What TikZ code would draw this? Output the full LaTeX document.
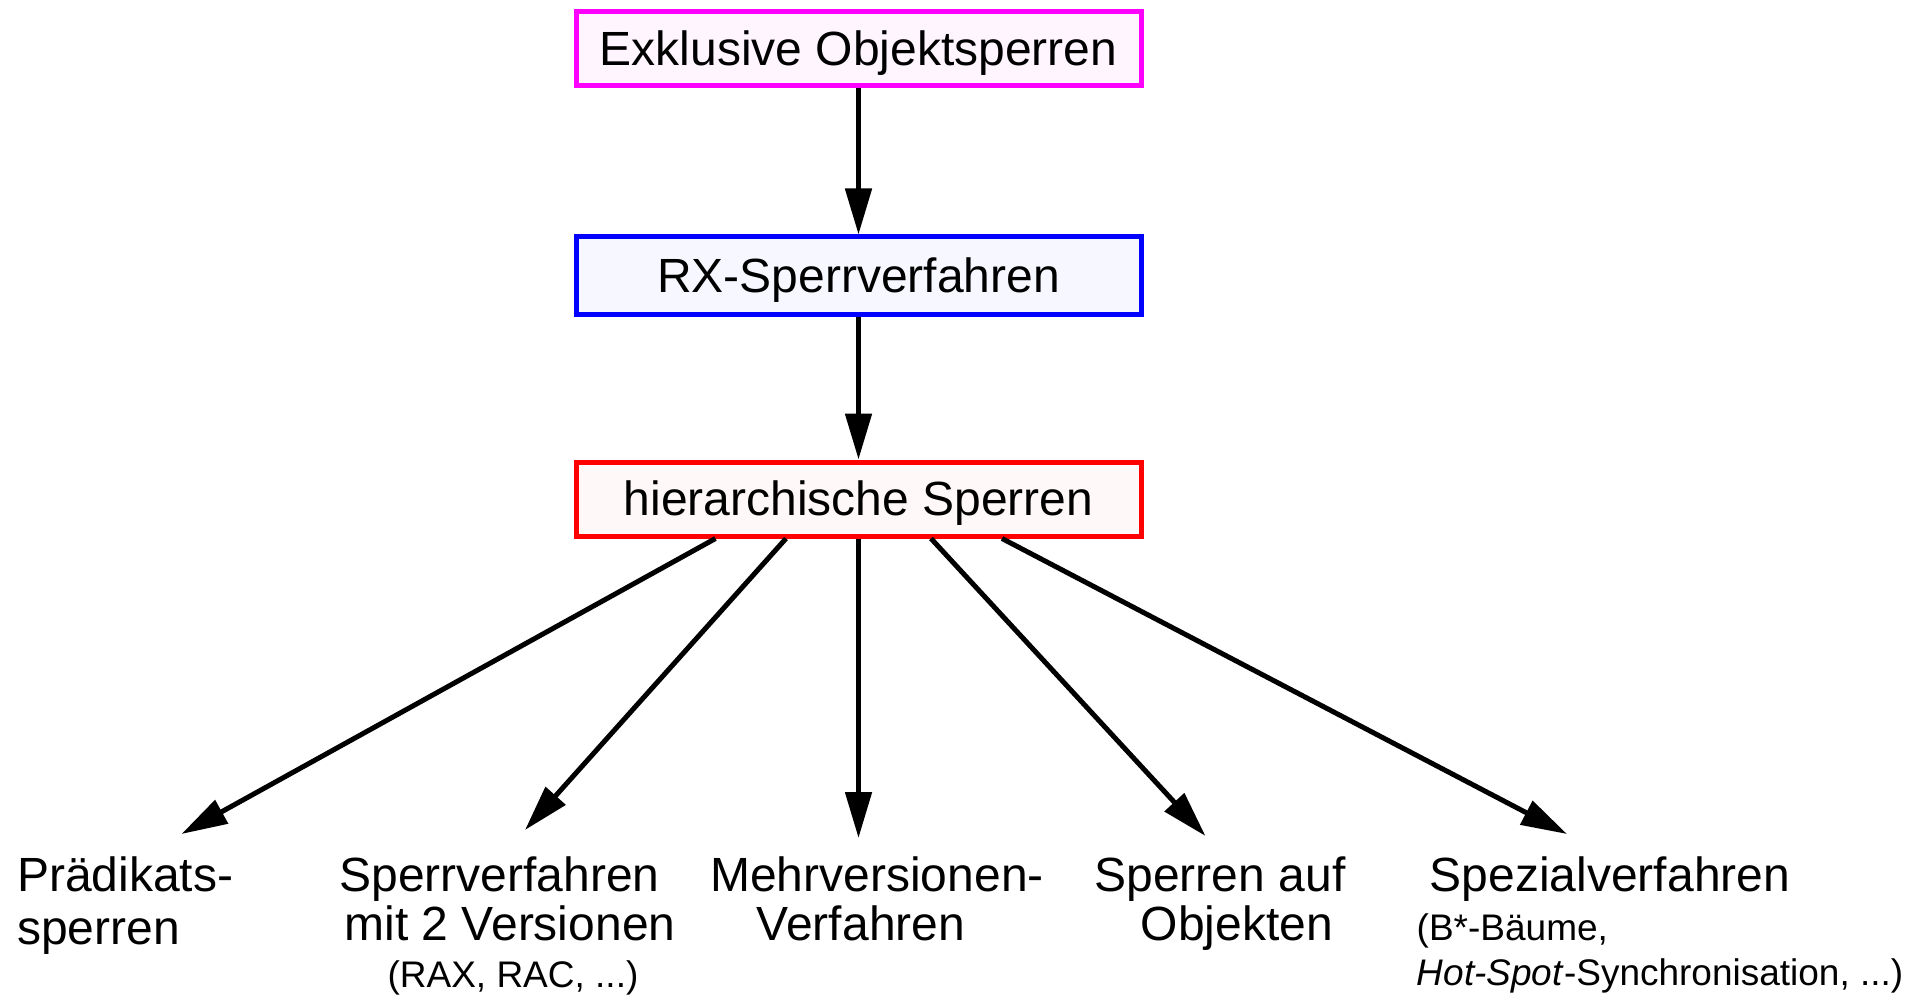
\documentclass[tikz,border=0pt]{standalone}
\usepackage{fontspec}
\setmainfont{Liberation Sans}
\usetikzlibrary{arrows.meta,calc}
\definecolor{magb}{HTML}{FF00FF}
\definecolor{magf}{HTML}{FFF5FF}
\definecolor{blub}{HTML}{0000FF}
\definecolor{bluf}{HTML}{F6F7FF}
\definecolor{redb}{HTML}{FF0000}
\definecolor{redf}{HTML}{FFF8F8}
\begin{document}
\begin{tikzpicture}[x=1pt,y=-1pt,
  box/.style={draw, line width=5pt, minimum width=565pt, minimum height=74pt, inner sep=0pt, text height=33pt, text depth=0pt, font=\fontsize{48}{58}\selectfont},
  arr/.style={line width=5pt, -{Triangle[length=46pt,width=26pt]}},
  lbl/.style={anchor=base, inner sep=0pt, font=\fontsize{48}{58}\selectfont},
  lbll/.style={anchor=base west, inner sep=0pt, font=\fontsize{48}{58}\selectfont},
  sml/.style={anchor=base, inner sep=0pt, font=\fontsize{37}{44}\selectfont},
  smll/.style={anchor=base west, inner sep=0pt, font=\fontsize{37}{44}\selectfont},
]
\useasboundingbox (0,0) rectangle (1923,995);
\node[box, draw=magb, fill=magf] (b1) at (858.5,49) {Exklusive Objektsperren};
\node[box, draw=blub, fill=bluf, minimum height=77pt] (b2) at (858.5,275.5) {RX-Sperrverfahren};
\node[box, draw=redb, fill=redf] (b3) at (858.5,499) {hierarchische Sperren};
\draw[arr] (b1) -- (b2);
\draw[arr] (b2) -- (b3);
% tips
\coordinate (t1) at (181.5,834);
\coordinate (t2) at (525,830);
\coordinate (t3) at (858.5,838);
\coordinate (t4) at (1205.5,836);
\coordinate (t5) at (1567,834);
\draw[arr] ($(b3.south)+(-143,0)$) -- (t1);
\draw[arr] ($(b3.south)+(-72.5,0)$) -- (t2);
\draw[arr] (b3.south) -- (t3);
\draw[arr] ($(b3.south)+(72.5,0)$) -- (t4);
\draw[arr] ($(b3.south)+(143.5,0)$) -- (t5);
% labels
\node[lbll] (l1a) at (17,891) {Prädikats-};
\node[lbll] (l1b) at (17,944) {sperren};
\node[lbl] (l2a) at (499.5,891) {Sperrverfahren};
\node[lbl] (l2b) at (510,940) {mit 2 Versionen};
\node[sml] (l2c) at (513,987) {(RAX, RAC, ...)};
\node[lbl] (l3a) at (877,891) {Mehrversionen-};
\node[lbl] (l3b) at (861,940) {Verfahren};
\node[lbl] (l4a) at (1220,891) {Sperren auf};
\node[lbl] (l4b) at (1237,940) {Objekten};
\node[lbl] (l5a) at (1610,891) {Spezialverfahren};
\node[smll] (l5b) at (1416.5,940) {(B*-Bäume,};
\node[smll] (l5c) at (1416.5,985) {\textit{Hot-Spot}-Synchronisation, ...)};
\end{tikzpicture}
\end{document}
